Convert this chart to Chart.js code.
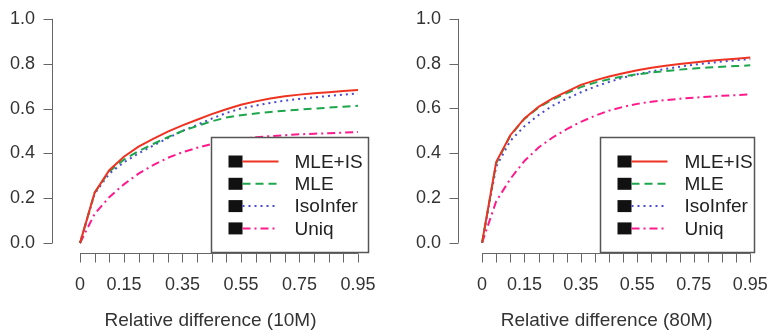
<!DOCTYPE html>
<html>
<head>
<meta charset="utf-8">
<script src="https://cdn.jsdelivr.net/npm/chart.js@4"></script>
<style>
  html, body { margin: 0; padding: 0; background: #fff; }
  .wrap { position: relative; width: 780px; height: 336px; }
  .wrap canvas { position: absolute; top: 0; }
</style>
</head>
<body>
<div class="wrap">
  <canvas id="c10" width="390" height="336" style="left:0"></canvas>
  <canvas id="c80" width="390" height="336" style="left:390px"></canvas>
</div>
<script>
// x positions of the curve vertices
const xVals = [0, 0.05, 0.1, 0.15, 0.2, 0.25, 0.3, 0.35, 0.4, 0.45, 0.5, 0.55, 0.6, 0.65, 0.7, 0.75, 0.8, 0.85, 0.9, 0.95]
const seriesNames = ['MLE+IS', 'MLE', 'IsoInfer', 'Uniq']
const yTicks = [0, 0.2, 0.4, 0.6, 0.8, 1.0]
const xTickLabels = ['0', '0.15', '0.35', '0.55', '0.75', '0.95']

// 10M
const mleIs10 = [0, 0.225, 0.325, 0.385, 0.43, 0.465, 0.497, 0.525, 0.55, 0.575, 0.597, 0.617, 0.632, 0.645, 0.655, 0.662, 0.668, 0.673, 0.678, 0.683]
const mle10 = [0, 0.225, 0.32, 0.372, 0.41, 0.442, 0.472, 0.5, 0.522, 0.543, 0.56, 0.57, 0.578, 0.585, 0.59, 0.595, 0.6, 0.604, 0.608, 0.612]
const isoInfer10 = [0, 0.22, 0.31, 0.36, 0.4, 0.435, 0.468, 0.5, 0.527, 0.555, 0.58, 0.6, 0.613, 0.625, 0.635, 0.643, 0.65, 0.656, 0.662, 0.667]
const uniq10 = [0, 0.13, 0.205, 0.262, 0.31, 0.348, 0.38, 0.405, 0.425, 0.442, 0.455, 0.465, 0.472, 0.477, 0.481, 0.485, 0.488, 0.49, 0.493, 0.495]

// 80M
const mleIs80 = [0, 0.36, 0.48, 0.555, 0.607, 0.645, 0.675, 0.705, 0.725, 0.742, 0.757, 0.77, 0.781, 0.79, 0.798, 0.805, 0.811, 0.817, 0.822, 0.827]
const mle80 = [0, 0.355, 0.478, 0.553, 0.603, 0.64, 0.668, 0.695, 0.715, 0.73, 0.743, 0.752, 0.76, 0.767, 0.773, 0.778, 0.782, 0.786, 0.789, 0.792]
const isoInfer80 = [0, 0.34, 0.455, 0.52, 0.57, 0.612, 0.643, 0.672, 0.697, 0.718, 0.737, 0.752, 0.765, 0.776, 0.786, 0.795, 0.802, 0.809, 0.815, 0.82]
const uniq80 = [0, 0.185, 0.285, 0.365, 0.425, 0.47, 0.507, 0.54, 0.567, 0.59, 0.607, 0.62, 0.63, 0.637, 0.643, 0.648, 0.652, 0.656, 0.659, 0.662]

const styles = [
  { color: '#ee3322', dash: [] },
  { color: '#1ea64c', dash: [8, 5] },
  { color: '#4a4ad2', dash: [2, 4] },
  { color: '#ff1a8c', dash: [8, 4, 2, 4] }
]

const FONT = 'Liberation Sans, Arial, Helvetica, sans-serif'
const AXIS = '#666'
const TICK_LEN = 9

// R-style axes: line over the labelled range plus a tick at every scale tick
const axisLines = {
  id: 'axisLines',
  afterDraw(chart) {
    const { ctx, chartArea, scales } = chart
    const lx = Math.round(chartArea.left) + 0.5
    const by = Math.round(chartArea.bottom) + 0.5
    ctx.save()
    ctx.strokeStyle = AXIS
    ctx.lineWidth = 1
    ctx.beginPath()
    ctx.moveTo(lx, scales.y.getPixelForValue(0))
    ctx.lineTo(lx, scales.y.getPixelForValue(1))
    scales.y.ticks.forEach(t => {
      const py = Math.round(scales.y.getPixelForValue(t.value)) + 0.5
      ctx.moveTo(lx, py)
      ctx.lineTo(lx - TICK_LEN, py)
    })
    ctx.moveTo(scales.x.getPixelForValue(0), by)
    ctx.lineTo(scales.x.getPixelForValue(0.95), by)
    scales.x.ticks.forEach(t => {
      const px = Math.round(scales.x.getPixelForValue(t.value)) + 0.5
      ctx.moveTo(px, by)
      ctx.lineTo(px, by + TICK_LEN)
    })
    ctx.stroke()
    ctx.restore()
  }
}

// boxed legend in the bottom right corner
const boxLegend = {
  id: 'boxLegend',
  afterDatasetsDraw(chart, args, opts) {
    const { ctx, chartArea } = chart
    const w = opts.width, h = 115
    const right = Math.round(chartArea.right) - 0.5
    const bottom = Math.round(chartArea.bottom) - 0.5
    const left = right - w, top = bottom - h
    ctx.save()
    ctx.fillStyle = '#fff'
    ctx.fillRect(left, top, w, h)
    ctx.strokeStyle = '#555'
    ctx.lineWidth = 1.5
    ctx.strokeRect(left, top, w, h)
    ctx.font = '19px ' + FONT
    ctx.textBaseline = 'middle'
    chart.data.datasets.forEach((ds, i) => {
      const cy = top + 24 + i * 22.3
      ctx.fillStyle = '#111'
      ctx.fillRect(left + 17, cy - 6, 14, 12)
      ctx.strokeStyle = ds.borderColor
      ctx.lineWidth = 2
      ctx.setLineDash(ds.borderDash)
      ctx.beginPath()
      ctx.moveTo(left + 31, cy)
      ctx.lineTo(left + 67, cy)
      ctx.stroke()
      ctx.setLineDash([])
      ctx.fillStyle = '#222'
      ctx.fillText(ds.label, left + opts.textX, cy + 1)
    })
    ctx.restore()
  }
}

function makeChart(id, title, values, lay) {
  const ctx = document.getElementById(id)
  if (!ctx) return

  new Chart(ctx, {
    type: 'line',
    data: {
      datasets: values.map((v, i) => ({
        label: seriesNames[i],
        data: xVals.map((x, j) => ({ x: x, y: v[j] })),
        borderColor: styles[i].color,
        borderDash: styles[i].dash,
        borderWidth: 2,
        pointRadius: 0,
        tension: 0,
        fill: false
      }))
    },
    options: {
      responsive: false,
      animation: false,
      devicePixelRatio: 1,
      layout: { padding: { left: 0, right: lay.padRight, top: lay.padTop, bottom: 0 } },
      plugins: {
        legend: { display: false },
        tooltip: { enabled: false },
        boxLegend: { width: lay.legendWidth, textX: lay.textX }
      },
      scales: {
        x: {
          type: 'linear',
          min: lay.xMin,
          max: lay.xMax,
          afterBuildTicks: (s) => { s.ticks = xVals.map(v => ({ value: v })) },
          afterFit: (s) => { s.height = 83 },
          ticks: {
            autoSkip: false,
            maxRotation: 0,
            padding: 12,
            color: '#333',
            font: { family: FONT, size: 18 },
            callback: (v) => {
              const t = v === 0 ? '0' : v.toFixed(2)
              return xTickLabels.includes(t) ? t : ''
            }
          },
          grid: { display: true, drawOnChartArea: false, drawTicks: true, tickLength: TICK_LEN, color: 'rgba(0,0,0,0)' },
          border: { display: false },
          title: {
            display: true,
            text: title,
            color: '#333',
            font: { family: FONT, size: 19 },
            padding: { top: 0, bottom: 4 }
          }
        },
        y: {
          min: lay.yMin,
          max: 1,
          afterBuildTicks: (s) => { s.ticks = yTicks.map(v => ({ value: v })) },
          afterFit: (s) => { s.width = lay.yWidth },
          ticks: {
            padding: 8,
            color: '#333',
            font: { family: FONT, size: 18 },
            callback: (v) => v.toFixed(1)
          },
          grid: { display: true, drawOnChartArea: false, drawTicks: true, tickLength: TICK_LEN, color: 'rgba(0,0,0,0)' },
          border: { display: false }
        }
      }
    },
    plugins: [axisLines, boxLegend]
  })
}

makeChart('c10', 'Relative difference (10M)', [mleIs10, mle10, isoInfer10, uniq10],
  { padRight: 21, padTop: 15, yWidth: 52, xMin: -0.0957, xMax: 0.9876, yMin: -0.044, legendWidth: 157, textX: 83 })
makeChart('c80', 'Relative difference (80M)', [mleIs80, mle80, isoInfer80, uniq80],
  { padRight: 13, padTop: 13, yWidth: 68, xMin: -0.0853, xMax: 0.968, yMin: -0.046, legendWidth: 154, textX: 84 })
</script>
</body>
</html>
